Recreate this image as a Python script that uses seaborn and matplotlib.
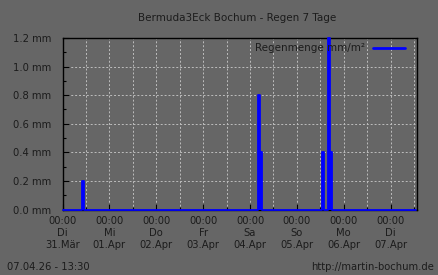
import matplotlib
matplotlib.use("Agg")
import matplotlib.pyplot as plt
import seaborn as sns
import pandas as pd
import numpy as np
from matplotlib.ticker import MultipleLocator, FixedLocator

# ---- data ----
title = "Bermuda3Eck Bochum - Regen 7 Tage"
series_name = "Regenmenge mm/m\u00b2"
rain_hours = [10, 100, 101, 133, 136, 137]      # hours since 31.03. 00:00
rain_mm = [0.2, 0.8, 0.4, 0.4, 1.2, 0.4]
total_hours = 181.5                              # until 07.04. 13:30
day_hours = [0, 24, 48, 72, 96, 120, 144, 168]
day_names = ["Di", "Mi", "Do", "Fr", "Sa", "So", "Mo", "Di"]
day_dates = ["31.M\u00e4r", "01.Apr", "02.Apr", "03.Apr", "04.Apr", "05.Apr", "06.Apr", "07.Apr"]
y_ticks = [0.0, 0.2, 0.4, 0.6, 0.8, 1.0, 1.2]
footer_left = "07.04.26 - 13:30"
footer_right = "http://martin-bochum.de"

# hourly series (zeros where no rain)
hours = pd.Index(range(0, int(total_hours) + 1), name="h")
s = pd.Series(rain_mm, index=rain_hours).reindex(hours, fill_value=0.0)
df = pd.DataFrame({"h": s.index, "mm": s.values})

BG = "#666666"
TXT = "#1c1c1c"
GRID = "#bdbdbd"
BLUE = "#0000ff"

sns.set_style("ticks")
plt.rcParams["font.family"] = ["DejaVu Sans"]

fig = plt.figure(figsize=(4.38, 2.75), dpi=100, facecolor=BG)
ax = fig.add_axes([62.5 / 438, 1 - 209.5 / 275, (417 - 62.5) / 438, (209.5 - 38) / 275])
ax.set_facecolor(BG)

sns.lineplot(data=df, x="h", y="mm", ax=ax, color=BLUE, linewidth=1.3,
             drawstyle="steps-post", label=series_name, zorder=5, clip_on=False)
ax.fill_between(df["h"], df["mm"], step="post", color=BLUE, linewidth=0, zorder=4)

ax.set_xlim(0, total_hours)
ax.set_ylim(0, 1.2)

ax.xaxis.set_major_locator(FixedLocator(day_hours))
ax.xaxis.set_minor_locator(MultipleLocator(12))
ax.set_xticklabels([f"00:00\n{d}\n{t}" for d, t in zip(day_names, day_dates)],
                   fontsize=7.2, color=TXT, linespacing=1.25)
ax.yaxis.set_major_locator(FixedLocator(y_ticks))
ax.yaxis.set_minor_locator(MultipleLocator(0.1))
ax.set_yticklabels([f"{v:.1f} mm" for v in y_ticks], fontsize=7.2, color=TXT)

ax.tick_params(axis="both", which="major", direction="in", length=4, width=0.8,
               color="black", pad=8)
ax.tick_params(axis="both", which="minor", direction="in", length=2, width=0.8,
               color="black")
ax.tick_params(axis="x", which="major", pad=5)

ax.grid(True, which="major", axis="y", color=GRID, linestyle=(0, (2, 2)), linewidth=0.7)
ax.grid(True, which="both", axis="x", color=GRID, linestyle=(0, (2, 2)), linewidth=0.7)

for sp in ax.spines.values():
    sp.set_visible(True)
    sp.set_color("black")
    sp.set_linewidth(1.0)

ax.set_xlabel("")
ax.set_ylabel("")

leg = ax.legend(loc="upper right", frameon=False, markerfirst=False, fontsize=7.5,
                handlelength=3.0, borderaxespad=0.1, bbox_to_anchor=(0.98, 1.0))
for t in leg.get_texts():
    t.set_color(TXT)
for l in leg.get_lines():
    l.set_linewidth(2)

fig.text(237 / 438, 1 - 18 / 275, title, ha="center", va="center", fontsize=7.5, color=TXT)
fig.text(7 / 438, 1 - 267 / 275, footer_left, ha="left", va="center", fontsize=7.2, color=TXT)
fig.text(434 / 438, 1 - 267 / 275, footer_right, ha="right", va="center", fontsize=7.2, color=TXT)

fig.savefig("out.png", dpi=100, facecolor=BG)
